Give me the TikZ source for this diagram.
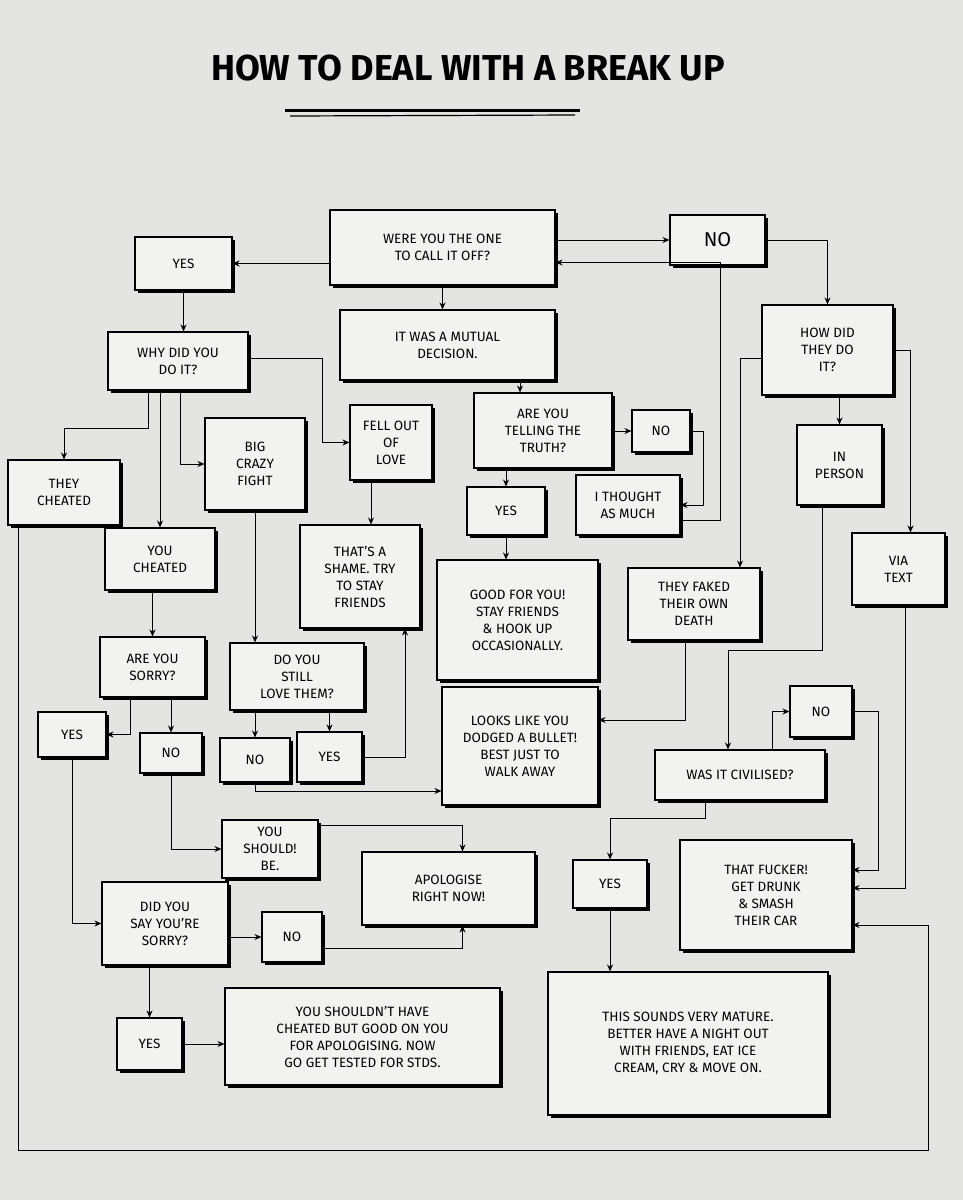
\documentclass[tikz,border=0pt]{standalone}
\usepackage{fontspec}
\setmainfont{Fira Sans}
\usetikzlibrary{shadows,arrows.meta,calc}
\definecolor{paper}{HTML}{E4E4E2}
\definecolor{boxfill}{HTML}{F2F2F0}
\tikzset{
  box/.style={draw=black, line width=1.1pt, fill=boxfill, align=center, inner sep=2pt,
    font=\fontsize{13.5}{17}\selectfont,
    drop shadow={shadow xshift=3pt, shadow yshift=-3pt, fill=black, opacity=1}},
  arr/.style={line width=1pt, -{Stealth[length=7pt,width=6pt]}}
}
\newcommand{\bx}[6]{\node[box, minimum width={(#4-#2)*1pt}, minimum height={(#5-#3)*1pt}] (#1) at ({(#2+#4)/2},{(#3+#5)/2}) {#6};}
\begin{document}
\begin{tikzpicture}[x=1pt,y=-1pt]
\fill[paper] (0,0) rectangle (963,1200);
\useasboundingbox (0,0) rectangle (963,1200);
\node[font=\fontsize{36}{40}\selectfont\bfseries] (title) at (468,68) {HOW TO DEAL WITH A BREAK UP};
\draw[line width=3pt] (285,110) -- (580,110);
\draw[line width=1.2pt] (290,116) -- (575,115);

\bx{Q1}{330}{210}{555}{285}{WERE YOU THE ONE\\TO CALL IT OFF?}
\bx{YES1}{135}{237}{232}{290}{YES}
\bx{NO1}{670}{215}{765}{265}{\fontsize{20}{22}\selectfont NO}
\bx{MUTUAL}{340}{310}{555}{380}{IT WAS A MUTUAL\\DECISION.}
\bx{WHY}{108}{332}{248}{390}{WHY DID YOU\\DO IT?}
\bx{HOW}{762}{305}{893}{395}{HOW DID\\THEY DO\\IT?}
\bx{TRUTH}{474}{393}{612}{468}{ARE YOU\\TELLING THE\\TRUTH?}
\bx{NO2}{632}{410}{690}{452}{NO}
\bx{THOUGHT}{576}{475}{680}{535}{I THOUGHT\\AS MUCH}
\bx{YES2}{467}{487}{545}{535}{YES}
\bx{FELL}{350}{405}{432}{480}{FELL OUT\\OF\\LOVE}
\bx{BIG}{205}{418}{305}{510}{BIG\\CRAZY\\FIGHT}
\bx{CHEATED}{8}{460}{120}{525}{THEY\\CHEATED}
\bx{INPERSON}{797}{425}{882}{505}{IN\\PERSON}
\bx{VIATEXT}{852}{533}{945}{605}{VIA\\TEXT}
\bx{YOUCHEATED}{105}{528}{215}{590}{YOU\\CHEATED}
\bx{SHAME}{300}{525}{420}{628}{THAT'S A\\SHAME. TRY\\TO STAY\\FRIENDS}
\bx{GOOD}{437}{560}{598}{680}{GOOD FOR YOU!\\STAY FRIENDS\\\& HOOK UP\\OCCASIONALLY.}
\bx{FAKED}{628}{568}{760}{640}{THEY FAKED\\THEIR OWN\\DEATH}
\bx{SORRY}{100}{637}{205}{697}{ARE YOU\\SORRY?}
\bx{STILL}{230}{643}{364}{710}{DO YOU\\STILL\\LOVE THEM?}
\bx{DODGED}{442}{687}{598}{805}{LOOKS LIKE YOU\\DODGED A BULLET!\\BEST JUST TO\\WALK AWAY}
\bx{NO3}{790}{686}{852}{737}{NO}
\bx{YES3}{38}{712}{106}{757}{YES}
\bx{NO4}{140}{733}{202}{773}{NO}
\bx{NO5}{220}{738}{290}{782}{NO}
\bx{YES4}{297}{732}{362}{782}{YES}
\bx{CIVIL}{655}{750}{825}{800}{WAS IT CIVILISED?}
\bx{SHOULD}{222}{820}{318}{878}{YOU\\SHOULD!\\BE.}
\bx{FUCKER}{680}{840}{852}{950}{THAT FUCKER!\\GET DRUNK\\\& SMASH\\THEIR CAR}
\bx{APOLOGISE}{362}{852}{535}{925}{APOLOGISE\\RIGHT NOW!}
\bx{YES5}{573}{860}{647}{908}{YES}
\bx{SAID}{102}{882}{228}{965}{DID YOU\\SAY YOU'RE\\SORRY?}
\bx{NO6}{262}{912}{322}{962}{NO}
\bx{YES6}{117}{1018}{182}{1070}{YES}
\bx{FINAL}{225}{988}{500}{1085}{YOU SHOULDN'T HAVE\\CHEATED BUT GOOD ON YOU\\FOR APOLOGISING. NOW\\GO GET TESTED FOR STDS.}
\bx{MATURE}{548}{972}{828}{1115}{THIS SOUNDS VERY MATURE.\\BETTER HAVE A NIGHT OUT\\WITH FRIENDS, EAT ICE\\CREAM, CRY \& MOVE ON.}

\draw[arr] (Q1.west|-YES1.east) -- (YES1.east);
\draw[arr] (Q1.east|-NO1.west) -- (NO1.west);
\draw[arr] (NO1.east) -| (HOW.north);
\draw[arr] (Q1.south) -- (Q1.south|-MUTUAL.north);
\draw[arr] (YES1.south) -- (YES1.south|-WHY.north);
\draw[arr] ([xshift=-23pt]TRUTH.north |- MUTUAL.south) -- ([xshift=-23pt]TRUTH.north);
\draw[arr] (TRUTH.east|-NO2.west) -- (NO2.west);
\draw[arr] (NO2.east) -- ++(13,0) |- (THOUGHT.east);
\draw[arr] ([yshift=-15pt]THOUGHT.east) -- ++(40,0) |- ([yshift=-15pt]Q1.east);
\draw[arr] (YES2.north|-TRUTH.south) -- (YES2.north);
\draw[arr] (YES2.south) -- (YES2.south|-GOOD.north);
\draw[arr] ([xshift=-30pt]WHY.south) -- ++(0,38) -| (CHEATED.north);
\draw[arr] (YOUCHEATED.north|-WHY.south) -- (YOUCHEATED.north);
\draw[arr] ([xshift=2pt]WHY.south) |- (BIG.west);
\draw[arr] ([yshift=3pt]WHY.east) -- ++(74,0) |- (FELL.west);
\draw[arr] ([yshift=-8pt]HOW.west) -| ([xshift=46pt]FAKED.north);
\draw[arr] (INPERSON.north|-HOW.south) -- (INPERSON.north);
\draw[arr] (HOW.east) -| ([xshift=12pt]VIATEXT.north);
\draw[arr] ([xshift=-20pt]FELL.south) -- ([xshift=-20pt]FELL.south |- SHAME.north);
\draw[arr] (BIG.south) -- (BIG.south|-STILL.north);
\draw[arr] (SORRY.north|-YOUCHEATED.south) -- (SORRY.north);
\draw[arr] ([xshift=-22pt]SORRY.south) |- (YES3.east);
\draw[arr] (NO4.north|-SORRY.south) -- (NO4.north);
\draw[arr] (NO5.north|-STILL.south) -- (NO5.north);
\draw[arr] (YES4.north|-STILL.south) -- (YES4.north);
\draw[arr] (YES4.east) -| ([xshift=45pt]SHAME.south);
\draw[arr] (NO5.south) |- ([yshift=-45pt]DODGED.west);
\draw[arr] ([xshift=-9pt]FAKED.south) |- ([yshift=26pt]DODGED.east);
\draw[arr] ([xshift=-17pt]INPERSON.south) -- ++(0,145) -| ([xshift=-12pt]CIVIL.north);
\draw[arr] ([xshift=32pt]CIVIL.north) |- (NO3.west);
\draw[arr] (NO3.east) -- ++(26,0) |- ([yshift=25pt]FUCKER.east);
\draw[arr] ([xshift=7pt]VIATEXT.south) |- ([yshift=7pt]FUCKER.east);
\draw[arr] ([xshift=-35pt]CIVIL.south) -- ++(0,18) -| (YES5.north);
\draw[arr] (YES5.south) -- (YES5.south|-MATURE.north);
\draw[arr] (NO4.south) |- (SHOULD.west);
\draw[arr] ([yshift=-6pt]SHOULD.north east) -| ([xshift=14pt]APOLOGISE.north);
\draw[arr] (YES3.south) |- (SAID.west);
\draw[arr] (SAID.east|-NO6.west) -- (NO6.west);
\draw[arr] ([yshift=-11pt]NO6.east) -| ([xshift=14pt]APOLOGISE.south);
\draw[arr] (YES6.north|-SAID.south) -- (YES6.north);
\draw[arr] (YES6.east) -- (YES6.east -| FINAL.west);
\coordinate (c1) at (928,1150);
\draw[arr] ([xshift=-46pt]CHEATED.south) |- (c1) |- ([yshift=-30pt]FUCKER.east);
\end{tikzpicture}
\end{document}
